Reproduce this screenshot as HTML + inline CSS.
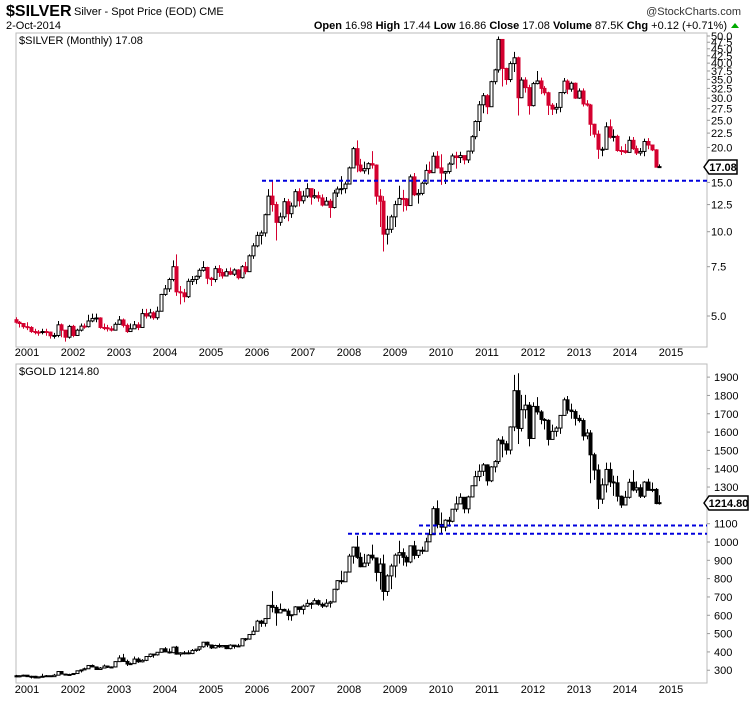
<!DOCTYPE html>
<html><head><meta charset="utf-8">
<style>
html,body{margin:0;padding:0;background:#fff;}
body{width:750px;height:700px;overflow:hidden;font-family:"Liberation Sans",sans-serif;}
svg text{font-family:"Liberation Sans",sans-serif;}
</style></head>
<body>
<svg id="chart" width="750" height="700" xmlns="http://www.w3.org/2000/svg">
  <g>
    <text x="6" y="16" font-size="16" font-weight="bold">$SILVER</text>
    <text x="74" y="15" font-size="11">Silver - Spot Price (EOD) CME</text>
    <text x="6" y="29" font-size="11">2-Oct-2014</text>
    <text x="741" y="15" font-size="11" text-anchor="end" fill="#333">@StockCharts.com</text>
    <text x="727" y="29" font-size="11" text-anchor="end"><tspan font-weight="bold">Open</tspan> 16.98 <tspan font-weight="bold">High</tspan> 17.44 <tspan font-weight="bold">Low</tspan> 16.86 <tspan font-weight="bold">Close</tspan> 17.08 <tspan font-weight="bold">Volume</tspan> 87.5K <tspan font-weight="bold">Chg</tspan> +0.12 (+0.71%)</text>
    <polygon points="731,28 739,28 735,23" fill="#0a0"/>
  </g>
  <rect x="16" y="33" width="691" height="314" fill="none" stroke="#bbb"/>
  <rect x="16" y="364" width="691" height="319" fill="none" stroke="#bbb"/>
  <text x="19" y="44" font-size="11" font-family="Liberation Mono">$SILVER (Monthly) 17.08</text>
  <text x="19" y="375" font-size="11">$GOLD 1214.80</text>
  <g id="silverG"></g>
  <g id="goldG"></g>
  <g id="axesG"></g>
</svg>
<script>
// ---- data: monthly from Oct 2000 to Oct 2014 ----
const years = [2001,2002,2003,2004,2005,2006,2007,2008,2009,2010,2011,2012,2013,2014,2015];
const silverTicks = [5.0,7.5,10.0,12.5,15.0,20.0,22.5,25.0,27.5,30.0,32.5,35.0,37.5,40.0,42.5,45.0,47.5,50.0];
const goldTicks = [300,400,500,600,700,800,900,1000,1100,1200,1300,1400,1500,1600,1700,1800,1900];
const silverFirstOpen = 4.85;
const silverClose = [4.75,4.70,4.58,
4.55,4.40,4.38,4.37,4.40,4.38,4.25,4.26,4.65,4.45,4.20,4.59,
4.26,4.45,4.60,4.58,4.80,4.90,4.92,4.55,4.54,4.50,4.45,4.67,
4.84,4.63,4.40,4.50,4.65,4.55,5.10,5.00,5.13,4.93,5.20,5.97,
6.25,6.75,7.50,6.10,6.05,5.86,6.65,6.75,6.93,7.28,7.45,6.82,
6.75,7.38,7.15,6.95,7.20,7.05,7.30,6.85,7.50,7.20,8.20,8.90,
9.70,9.90,11.50,13.40,12.50,10.80,11.30,12.80,11.60,12.35,13.90,12.90,
13.40,14.25,13.30,13.45,13.20,12.45,12.85,12.20,13.75,14.20,14.25,14.80,
16.90,19.80,17.30,16.50,16.80,17.50,17.30,13.40,12.85,9.80,10.20,11.30,
12.50,13.15,13.10,12.40,15.70,13.55,13.70,14.90,16.55,16.25,18.60,16.90,
16.20,16.40,17.45,18.65,18.40,18.70,18.05,19.40,21.85,24.75,28.40,30.60,
27.95,34.35,37.85,48.60,38.30,34.95,39.85,41.80,30.10,34.80,32.70,28.20,
33.80,34.55,32.50,31.35,28.30,27.40,27.80,31.40,34.50,32.30,33.90,30.00,
31.80,28.60,28.35,24.20,22.30,19.70,19.70,23.70,21.75,21.90,19.50,19.45,
19.20,21.20,19.80,19.10,19.35,21.00,20.40,19.60,17.00,17.08];
const silverHigh = [4.95,4.80,4.65,
4.75,4.60,4.50,4.45,4.50,4.50,4.40,4.35,4.80,4.70,4.30,4.65,
4.65,4.50,4.70,4.70,5.05,5.10,5.10,4.95,4.70,4.65,4.60,4.75,
5.00,4.90,4.70,4.70,4.80,4.75,5.30,5.30,5.30,5.20,5.40,6.00,
6.45,6.85,7.90,8.30,6.40,6.25,6.80,6.95,6.98,7.40,7.85,7.50,
6.90,7.55,7.60,7.35,7.40,7.45,7.40,7.35,7.60,7.80,8.30,9.10,
10.0,10.1,11.6,14.2,15.2,12.8,11.7,13.2,13.1,12.7,14.2,14.3,
14.0,14.9,14.2,14.2,13.9,13.6,13.3,13.1,14.1,14.5,15.8,15.1,
17.1,20.1,21.2,18.2,17.8,17.7,19.4,17.4,14.2,13.4,11.4,11.5,
12.9,14.6,14.1,13.2,16.0,16.2,14.2,15.1,17.4,17.8,19.2,19.4,
18.9,16.5,17.7,19.0,19.3,19.3,18.7,19.5,22.1,25.0,29.3,31.3,
31.0,34.6,38.2,49.8,48.6,38.5,40.6,43.9,42.2,35.6,35.6,33.5,
34.3,37.5,35.5,33.1,31.6,28.8,28.8,31.5,35.4,35.0,34.4,34.1,
32.5,32.5,29.5,28.6,24.3,23.0,20.1,24.6,25.2,23.2,22.2,20.2,
20.6,21.9,21.8,20.3,19.9,21.5,21.6,20.0,19.7,17.4];
const silverLow = [4.70,4.55,4.50,
4.45,4.35,4.30,4.25,4.30,4.25,4.15,4.15,4.20,4.20,4.05,4.15,
4.20,4.25,4.40,4.50,4.55,4.75,4.75,4.50,4.45,4.40,4.40,4.45,
4.65,4.55,4.35,4.40,4.50,4.45,4.55,4.90,4.90,4.85,4.85,5.20,
5.90,6.10,6.65,5.90,5.50,5.60,5.80,6.45,6.50,6.80,7.20,6.50,
6.40,6.60,6.90,6.80,6.95,7.00,6.95,6.75,6.80,7.05,7.20,8.00,
8.80,9.00,9.60,11.5,11.8,9.30,10.5,11.1,10.9,11.2,12.2,12.3,
12.6,13.2,12.5,13.1,12.8,12.3,12.4,11.2,12.1,13.3,13.6,13.7,
14.8,16.9,16.3,16.3,16.1,16.0,16.8,12.5,10.4,8.5,9.0,9.9,
10.4,12.5,11.8,11.9,12.4,13.4,12.6,13.5,14.7,16.1,16.4,16.8,
14.7,14.8,16.1,17.3,16.8,17.6,17.4,17.6,19.0,21.4,22.9,26.5,
26.3,28.1,33.6,37.0,33.0,33.5,34.2,37.2,26.0,30.0,31.4,26.2,
28.0,33.6,31.0,30.7,26.1,26.1,26.4,26.7,31.0,31.0,31.6,29.8,
29.8,28.0,28.0,22.0,21.7,18.2,18.6,19.6,21.5,21.0,19.3,18.8,
19.0,19.2,19.6,18.8,18.7,18.6,19.7,19.4,17.1,16.9];
const goldFirstOpen = 270;
const goldClose = [264,270,273,
265,267,258,264,267,270,265,273,293,279,275,277,
282,297,302,308,326,318,304,312,323,316,318,347,
367,348,334,336,361,346,354,375,388,384,398,417,
400,396,426,388,395,395,391,408,415,428,453,438,
422,435,428,435,418,437,430,433,472,470,495,513,
568,556,582,654,643,613,632,623,599,603,646,632,
650,665,662,680,660,650,666,673,742,789,783,836,
923,972,916,865,885,928,913,834,880,730,815,869,
928,942,916,891,979,927,955,950,1001,1040,1182,1096,
1081,1119,1113,1179,1208,1244,1181,1246,1307,1357,1386,1421,
1334,1410,1439,1556,1536,1502,1628,1826,1620,1722,1747,1565,
1740,1710,1669,1664,1560,1604,1622,1691,1776,1720,1712,1675,
1663,1579,1595,1476,1393,1234,1312,1396,1328,1323,1250,1202,
1244,1326,1284,1296,1250,1327,1282,1287,1210,1214.8];
const goldHigh = [275,272,276,
274,270,269,266,281,274,271,280,296,293,281,281,
285,298,304,314,328,331,320,318,331,325,321,349,
382,389,358,342,375,370,361,376,392,388,399,418,
426,419,429,433,398,405,409,416,416,430,455,456,
428,439,446,437,435,442,433,444,474,476,498,540,
575,575,584,654,732,656,664,636,636,602,650,643,
659,686,672,693,686,670,688,679,744,792,843,836,
935,975,1034,943,935,934,986,913,911,931,824,881,
938,1007,965,927,981,1006,958,975,1023,1070,1195,1227,
1161,1124,1137,1180,1249,1266,1213,1253,1307,1388,1424,1431,
1424,1414,1447,1567,1577,1552,1632,1912,1921,1803,1803,1764,
1763,1791,1720,1676,1670,1641,1632,1692,1788,1797,1755,1723,
1694,1675,1616,1611,1487,1424,1347,1433,1434,1362,1361,1254,
1279,1345,1392,1331,1315,1332,1345,1325,1295,1255];
const goldLow = [262,262,268,
263,255,257,255,263,265,264,267,271,277,271,271,
277,281,288,301,308,316,302,301,310,312,313,315,
345,345,323,330,335,340,342,350,370,368,380,396,
399,391,393,385,375,386,387,388,401,406,423,426,
416,418,422,424,415,414,418,428,434,459,467,492,
513,537,538,581,616,543,613,622,573,570,603,615,
605,645,635,660,653,640,643,642,670,736,770,787,
846,882,908,862,865,869,900,785,740,681,706,743,
806,882,871,866,884,906,913,934,1001,1021,1040,1075,
1044,1059,1083,1107,1165,1211,1157,1156,1243,1315,1332,1360,
1308,1327,1380,1426,1462,1477,1478,1605,1535,1603,1674,1522,
1563,1695,1643,1614,1527,1565,1575,1590,1690,1700,1673,1636,
1652,1554,1561,1321,1339,1180,1208,1270,1300,1252,1221,1186,
1200,1237,1277,1268,1240,1240,1282,1272,1206,1204];
const silverSupport = [15.2];
const goldSupport = [1090, 1045];

// ---- axis functions ----
const NS='http://www.w3.org/2000/svg';
const xM = i => 27 + (i - 3) * 3.833;           // i = months since Oct 2000
const xYear = y => 27 + (y - 2001) * 46;
const ySil = v => 316 - 280 * Math.log10(v / 5);
const yGold = v => 542 - (v - 1000) * 0.1832;
function mk(tag, attrs, parent){const e=document.createElementNS(NS,tag);for(const k in attrs)e.setAttribute(k,attrs[k]);parent.appendChild(e);return e;}

function drawCandles(g, firstOpen, C, H, L, yf, downColor, name){
  for(let i=0;i<C.length;i++){
    const o = i===0 ? firstOpen : C[i-1], c = C[i];
    const x = Math.round(xM(i)) + 0.5;
    const up = c >= o;
    const col = up ? '#000' : downColor;
    const w = mk('line',{x1:x,x2:x,y1:yf(H[i]),y2:yf(L[i]),stroke:col,'stroke-width':1},g);
    
    
    const top = yf(Math.max(o,c)), bot = yf(Math.min(o,c));
    const b = mk('rect',{x:x-1.5,y:top,width:3,height:Math.max(1,bot-top),fill:up?'#fff':downColor,stroke:col,'stroke-width':1},g);
    
    
  }
}
drawCandles(document.getElementById('silverG'), silverFirstOpen, silverClose, silverHigh, silverLow, ySil, '#d4002f', 'silver');
drawCandles(document.getElementById('goldG'), goldFirstOpen, goldClose, goldHigh, goldLow, yGold, '#000', 'gold');

const ax = document.getElementById('axesG');
const supStartS = [262];
silverSupport.forEach((v,k)=>{
  const l = mk('line',{x1:supStartS[k],x2:707,y1:ySil(v),y2:ySil(v),stroke:'#0000dd','stroke-width':2,'stroke-dasharray':'4,3'},ax);
  
  
});
const supStartG = [419, 348];
goldSupport.forEach((v,k)=>{
  const l = mk('line',{x1:supStartG[k],x2:707,y1:yGold(v),y2:yGold(v),stroke:'#0000dd','stroke-width':2,'stroke-dasharray':'4,3'},ax);
  
  
});
silverTicks.forEach(v=>{
  const t = mk('text',{x:711,y:ySil(v)+4,'font-size':11},ax);
  t.textContent = v.toFixed(1);
  
  
  const tk = mk('line',{x1:707,x2:710,y1:ySil(v),y2:ySil(v),stroke:'#999'},ax);
  
  
});
goldTicks.forEach(v=>{
  const t = mk('text',{x:714,y:yGold(v)+4,'font-size':11},ax);
  t.textContent = String(v);
  
  
  const tk = mk('line',{x1:707,x2:710,y1:yGold(v),y2:yGold(v),stroke:'#999'},ax);
  
  
});
function tag(y, txt, right, name){
  const p = mk('polygon',{points:`704,${y} 709,${y-7} ${right},${y-7} ${right},${y+7} 709,${y+7}`,fill:'#fff',stroke:'#000','stroke-width':1.5},ax);
  
  
  const t = mk('text',{x:(709+right)/2,y:y+4,'font-size':11,'font-weight':'bold','text-anchor':'middle'},ax);
  t.textContent = txt;
  
  
}
tag(Math.round(ySil(silverClose[silverClose.length-1])), silverClose[silverClose.length-1].toFixed(2), 737, 'silver-last-price-tag');
tag(Math.round(yGold(goldClose[goldClose.length-1])), goldClose[goldClose.length-1].toFixed(2), 748, 'gold-last-price-tag');
years.forEach(y=>{
  [356, 693].forEach((yy,k)=>{
    const t = mk('text',{x:xYear(y),y:yy,'font-size':11,'text-anchor':'middle'},ax);
    t.textContent = String(y);
    
    
  });
});
</script>
</body></html>
